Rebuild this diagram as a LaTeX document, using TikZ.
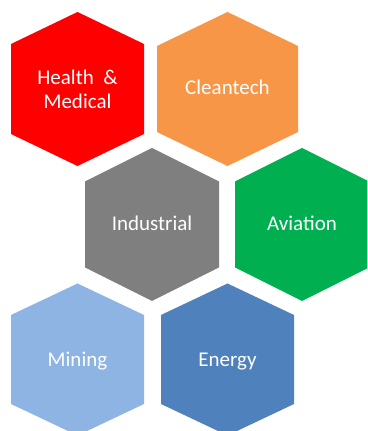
\documentclass[tikz,border=0pt]{standalone}
\usepackage{fontspec}
\setmainfont{Carlito}
\definecolor{hred}{HTML}{FF0000}
\definecolor{horange}{HTML}{F79646}
\definecolor{hgray}{HTML}{7F7F7F}
\definecolor{hgreen}{HTML}{00B050}
\definecolor{hlblue}{HTML}{8EB4E3}
\definecolor{hdblue}{HTML}{4F81BD}
% #1 x, #2 y, #3 half width, #4 side half-height, #5 half height, #6 colour
\newcommand\hexfill[6]{%
  \fill[#6] (#1pt,#2pt+#5pt) -- (#1pt+#3pt,#2pt+#4pt) -- (#1pt+#3pt,#2pt-#4pt)
    -- (#1pt,#2pt-#5pt) -- (#1pt-#3pt,#2pt-#4pt) -- (#1pt-#3pt,#2pt+#4pt) -- cycle;}
\begin{document}
\begin{tikzpicture}[x=1pt,y=1pt,
  hexlabel/.style={text=white,font=\fontsize{21}{24}\selectfont,align=center,inner sep=0pt},
  baselabel/.style={hexlabel,anchor=base}]
\useasboundingbox (0,0) rectangle (367,431);
\begin{scope}
\clip (0,0) rectangle (367,431);
\hexfill{77.5}{342}{66.5}{45}{77}{hred}
\hexfill{227.5}{342}{70.5}{43}{77}{horange}
\hexfill{152}{206.5}{67}{43}{76.5}{hgray}
\hexfill{302}{206.5}{67}{43}{76.5}{hgreen}
\hexfill{77.5}{71.5}{66.5}{44.5}{76}{hlblue}
\hexfill{227.5}{71.5}{66.5}{44.5}{76}{hdblue}
\end{scope}
\node[hexlabel] (health) at (77.5,342) {Health~~\&\\Medical};
\node[baselabel] (clean) at (227.5,336) {Cleantech};
\node[baselabel] (indus) at (152,200) {Industrial};
\node[baselabel] (avia) at (302,200) {Aviation};
\node[baselabel] (mining) at (77.5,64) {Mining};
\node[baselabel] (energy) at (227.5,64) {Energy};
\end{tikzpicture}
\end{document}
